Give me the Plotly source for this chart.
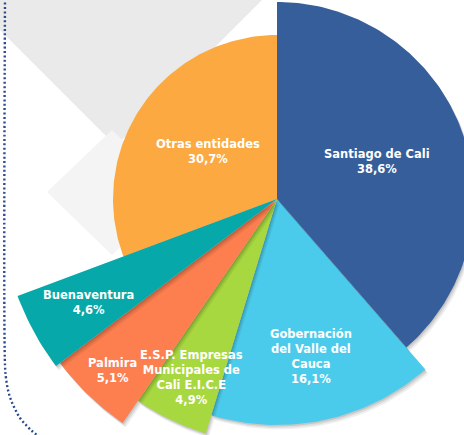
import math
import plotly.graph_objects as go

# ---- data ----
labels = ["Santiago de Cali", "Gobernación del Valle del Cauca",
          "E.S.P. Empresas Municipales de Cali E.I.C.E", "Palmira",
          "Buenaventura", "Otras entidades"]
label_lines = ["Santiago de Cali", "Gobernación<br>del Valle del<br>Cauca",
               "E.S.P. Empresas<br>Municipales de<br>Cali E.I.C.E", "Palmira",
               "Buenaventura", "Otras entidades"]
values = [38.6, 16.1, 4.9, 5.1, 4.6, 30.7]

# ---- styles ----
colors = ["#365e9b", "#4bcbeb", "#a8d83f", "#fd7e4f", "#07a8a9", "#fba940"]
slice_radius = [197, 226, 245, 272, 277, 164]   # px, design radius of each wedge
label_radius = [107, 161, 198, 238, 215, 84]
draw_order = [5, 1, 2, 3, 4, 0]
CX, CY = 277, 199
W, H = 464, 435

total = sum(values)
starts, ends = [], []
acc = 0.0
for v in values:
    starts.append(acc / total * 360.0)
    acc += v
    ends.append(acc / total * 360.0)


def wedge(i, dx=0.0, dy=0.0):
    r = slice_radius[i]
    a0, a1 = starts[i], ends[i]
    n = max(8, int((a1 - a0) / 1.0))
    xs, ys = [CX + dx], [CY + dy]
    for k in range(n + 1):
        a = math.radians(a0 + (a1 - a0) * k / n)
        xs.append(CX + dx + r * math.sin(a))
        ys.append(CY + dy - r * math.cos(a))
    xs.append(CX + dx)
    ys.append(CY + dy)
    return xs, ys


fig = go.Figure()

# dotted decorative line
fig.add_trace(go.Scatter(
    x=[5, 5, 6, 8, 11, 15, 20, 26, 32, 38],
    y=[-2, 365, 378, 390, 400, 409, 418, 425, 431, 436],
    mode="lines", line=dict(color="#2c4b8e", width=2.4, dash="2px,2.4px", shape="spline"),
    hoverinfo="skip", showlegend=False))

for i in draw_order:
    for off, al in [((1.0, 1.5), 0.10), ((2.0, 3.0), 0.08), ((3.0, 4.5), 0.06)]:
        sx, sy = wedge(i, *off)
        fig.add_trace(go.Scatter(x=sx, y=sy, mode="lines", fill="toself",
                                 fillcolor=f"rgba(0,0,0,{al})", line=dict(width=0),
                                 hoverinfo="skip", showlegend=False))
    wx, wy = wedge(i)
    fig.add_trace(go.Scatter(x=wx, y=wy, mode="lines", fill="toself",
                             fillcolor=colors[i], line=dict(width=0),
                             name=labels[i], text=f"{labels[i]}: {values[i]}%",
                             hoverinfo="text", showlegend=False))

for i in range(len(values)):
    mid = math.radians((starts[i] + ends[i]) / 2)
    lx = CX + label_radius[i] * math.sin(mid)
    ly = CY - label_radius[i] * math.cos(mid)
    pct = f"{values[i]:.1f}".replace(".", ",") + "%"
    fig.add_annotation(x=lx, y=ly, xref="x", yref="y",
                       text=f"<b>{label_lines[i]}<br>{pct}</b>",
                       showarrow=False, align="center",
                       font=dict(family="DejaVu Sans", size=11.5, color="#ffffff"))

shapes = [
    dict(type="path", path="M 0 0 L 262 0 L 116 146 L 0 30 Z",
         fillcolor="#eaeaea", line=dict(width=0), layer="below"),
    dict(type="path", path="M 47 192 L 112 130 L 177 192 L 112 255 Z",
         fillcolor="#f4f4f4", line=dict(width=0), layer="below"),
]

fig.update_layout(
    width=W, height=H, margin=dict(l=0, r=0, t=0, b=0),
    paper_bgcolor="#ffffff", plot_bgcolor="rgba(0,0,0,0)",
    xaxis=dict(range=[0, W], visible=False, fixedrange=True),
    yaxis=dict(range=[H, 0], visible=False, fixedrange=True),
    shapes=shapes, showlegend=False,
)

fig.write_html("out.html", config={"displayModeBar": False},
               post_script="document.body.style.margin='0';document.body.style.overflow='hidden';")
